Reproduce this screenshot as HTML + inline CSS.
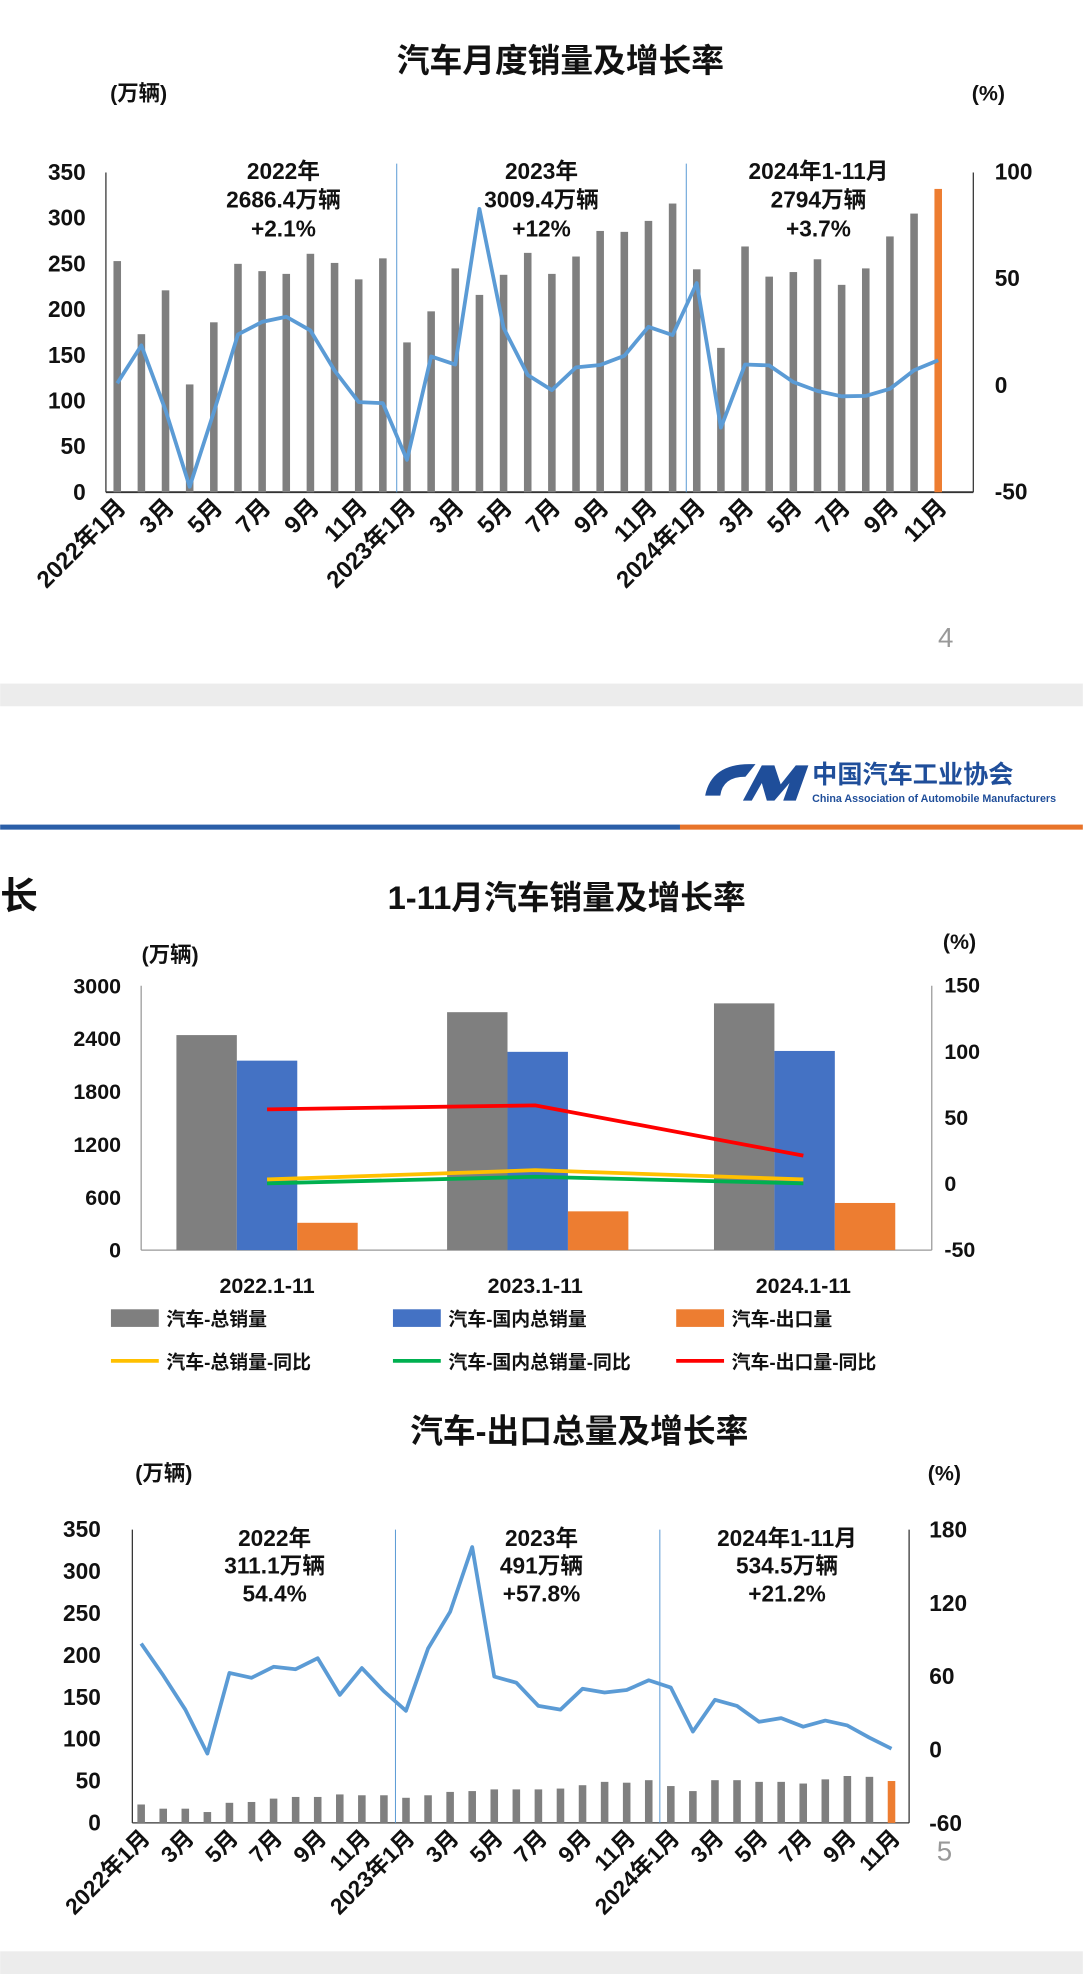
<!DOCTYPE html>
<html><head><meta charset="utf-8"><style>
html,body{margin:0;padding:0;background:#fff;}
svg{display:block;font-family:"Liberation Sans","Noto Sans CJK SC",sans-serif;}
</style></head><body>
<svg id="s" width="1083" height="1974" viewBox="0 0 860 1568" xmlns="http://www.w3.org/2000/svg">
<rect width="860" height="1568" fill="#fff"/>
<rect x="0" y="543" width="860" height="18" fill="#ececec"/>
<rect x="0" y="1550" width="860" height="18" fill="#ececec"/>
<g font-weight="bold" fill="#111" text-anchor="middle">
<text x="445" y="57" font-size="26">汽车月度销量及增长率</text>
<text x="110" y="80" font-size="17">(万辆)</text>
<text x="785" y="80" font-size="17">(%)</text>
<text x="225" y="142" font-size="18">2022年</text><text x="225" y="165" font-size="18">2686.4万辆</text><text x="225" y="188" font-size="18">+2.1%</text>
<text x="430" y="142" font-size="18">2023年</text><text x="430" y="165" font-size="18">3009.4万辆</text><text x="430" y="188" font-size="18">+12%</text>
<text x="650" y="142" font-size="18">2024年1-11月</text><text x="650" y="165" font-size="18">2794万辆</text><text x="650" y="188" font-size="18">+3.7%</text>
<text x="450" y="722" font-size="26">1-11月汽车销量及增长率</text>
<text x="15" y="722" font-size="30">长</text>
<text x="135" y="764" font-size="17">(万辆)</text>
<text x="762" y="754" font-size="17">(%)</text>
<text x="460" y="1146" font-size="26">汽车-出口总量及增长率</text>
<text x="130" y="1176" font-size="17">(万辆)</text>
<text x="750" y="1176" font-size="17">(%)</text>
<text x="218" y="1228" font-size="18">2022年</text><text x="218" y="1250" font-size="18">311.1万辆</text><text x="218" y="1272" font-size="18">54.4%</text>
<text x="430" y="1228" font-size="18">2023年</text><text x="430" y="1250" font-size="18">491万辆</text><text x="430" y="1272" font-size="18">+57.8%</text>
<text x="625" y="1228" font-size="18">2024年1-11月</text><text x="625" y="1250" font-size="18">534.5万辆</text><text x="625" y="1272" font-size="18">+21.2%</text>
</g>
<text x="745" y="514" font-size="22" fill="#999">4</text>
<text x="744" y="1478" font-size="22" fill="#999">5</text>
<!-- logo -->
<path d="M560 632 q5 -25 35 -25 l5 0 l-8 10 q-18 0 -20 15 z" fill="#1f4e9a"/>
<path d="M590 636 l15 -28 l10 0 l5 15 l12 -15 l10 0 l-10 28 l-10 0 l5 -14 l-12 14 l-6 0 l-4 -14 l-8 14 z" fill="#1f4e9a"/>
<text x="645" y="622" font-size="20" font-weight="bold" fill="#1f4e9a">中国汽车工业协会</text>
<text x="645" y="637" font-size="8.5" fill="#1f4e9a" font-weight="bold">China Association of Automobile Manufacturers</text>
<rect x="0" y="655" width="540" height="4" fill="#2b5fa8"/>
<rect x="540" y="655" width="320" height="4" fill="#e8742a"/>
<g id="g"></g>
</svg>
<script>
const g=document.getElementById('g');let h='';
const T=(x,y,t,o='')=>h+=`<text x="${x}" y="${y}" ${o}>${t}</text>`;
const L=['2022年1月','3月','5月','7月','9月','11月','2023年1月','3月','5月','7月','9月','11月','2024年1月','3月','5月','7月','9月','11月'];
const idx=j=>(j<6?j*2:j<12?12+(j-6)*2:24+(j-12)*2);
// chart 1
{const y0=391,k=254/350,r0=306,rk=84.7/50,x0=93,dx=19.18;
h+=`<line x1="84" y1="391" x2="773" y2="391" stroke="#333" stroke-width="1.5"/><line x1="84" y1="137" x2="84" y2="391" stroke="#333"/><line x1="773" y1="137" x2="773" y2="391" stroke="#333"/>`;
h+=`<line x1="315" y1="130" x2="315" y2="391" stroke="#5b9bd5" stroke-width="0.8"/><line x1="545" y1="130" x2="545" y2="391" stroke="#5b9bd5" stroke-width="0.8"/>`;
const v=[253,173,221,118,186,250,242,239,261,251,233,256,164,198,245,216,238,262,239,258,286,285,297,316,244,158,269,236,241,255,227,245,280,305,332];
const p=[0.9,18.7,-11.7,-47.6,-12.6,23.8,29.7,32.1,25.7,6.9,-7.9,-8.4,-35,13.5,9.7,82.7,26.9,4.8,-2.3,8.4,9.5,13.8,27.4,23.5,47.9,-19.9,9.7,9.3,1.5,-2.7,-5.2,-5,-1.7,7,11.7];
v.forEach((a,i)=>{const x=x0+i*dx;h+=`<rect x="${x-3}" y="${y0-a*k}" width="6" height="${a*k}" fill="${i==34?'#ed7d31':'#7f7f7f'}"/>`;});
h+=`<polyline fill="none" stroke="#5b9bd5" stroke-width="3" stroke-linejoin="round" points="${p.map((a,i)=>(x0+i*dx)+','+(r0-a*rk)).join(' ')}"/>`;
h+='<g font-weight="bold" font-size="18" fill="#111">';
[0,50,100,150,200,250,300,350].forEach(a=>T(68,y0-a*k+6,a,'text-anchor="end"'));
[100,50,0,-50].forEach(a=>T(790,r0-a*rk+6,a));
L.forEach((t,j)=>{const xi=x0+idx(j)*dx;T(0,0,t,`font-size="19" text-anchor="end" transform="translate(${xi+8},${404}) rotate(-45)"`);});
h+='</g>';}
// chart 2
{const y0=993,k=210/3000,r0=940,rk=157.5/150;
h+=`<line x1="112" y1="993" x2="740" y2="993" stroke="#999"/><line x1="112" y1="783" x2="112" y2="993" stroke="#999"/><line x1="740" y1="783" x2="740" y2="993" stroke="#999"/>`;
const G=[[140,2440,2150,310],[355,2700,2250,440],[567,2800,2260,535]];
G.forEach(([x,a,b,c])=>{h+=`<rect x="${x}" y="${y0-a*k}" width="48" height="${a*k}" fill="#7f7f7f"/><rect x="${x+48}" y="${y0-b*k}" width="48" height="${b*k}" fill="#4472c4"/><rect x="${x+96}" y="${y0-c*k}" width="48" height="${c*k}" fill="#ed7d31"/>`;});
const X=[212,425,638];
[[[56,59,21],'#ff0000'],[[3,10,3],'#ffc000'],[[0,5,0],'#00b050']].forEach(([d,c])=>h+=`<polyline fill="none" stroke="${c}" stroke-width="3" points="${d.map((a,i)=>X[i]+','+(r0-a*rk)).join(' ')}"/>`);
h+='<g font-weight="bold" font-size="17" fill="#111">';
[0,600,1200,1800,2400,3000].forEach(a=>T(96,y0-a*k+6,a,'text-anchor="end"'));
[150,100,50,0,-50].forEach(a=>T(750,r0-a*rk+6,a));
['2022.1-11','2023.1-11','2024.1-11'].forEach((t,i)=>T(X[i],1027,t,'text-anchor="middle"'));
h+='</g><g font-size="15" font-weight="bold" fill="#111">';
const leg=[[88,1053,'#7f7f7f','rect','汽车-总销量'],[312,1053,'#4472c4','rect','汽车-国内总销量'],[537,1053,'#ed7d31','rect','汽车-出口量'],[88,1087,'#ffc000','line','汽车-总销量-同比'],[312,1087,'#00b050','line','汽车-国内总销量-同比'],[537,1087,'#ff0000','line','汽车-出口量-同比']];
leg.forEach(([x,y,c,t,s])=>{h+=t=='rect'?`<rect x="${x}" y="${y-13}" width="38" height="14" fill="${c}"/>`:`<line x1="${x}" y1="${y-6}" x2="${x+38}" y2="${y-6}" stroke="${c}" stroke-width="3"/>`;T(x+44,y,s);});
h+='</g>';}
// chart 3
{const y0=1448,k=233/350,r0=1390,rk=58.25/60,x0=112,dx=17.53;
h+=`<line x1="105" y1="1448" x2="722" y2="1448" stroke="#333"/><line x1="105" y1="1215" x2="105" y2="1448" stroke="#333"/><line x1="722" y1="1215" x2="722" y2="1448" stroke="#333"/>`;
h+=`<line x1="314" y1="1215" x2="314" y2="1448" stroke="#5b9bd5" stroke-width="0.8"/><line x1="524" y1="1215" x2="524" y2="1448" stroke="#5b9bd5" stroke-width="0.8"/>`;
const v=[22,17,17,13,24,25,29,31,31,34,33,33,30,33,37,38,40,40,40,41,45,49,48,51,44,38,51,51,49,49,47,52,56,55,50];
const p=[87,61,33,-3,63,59,68,66,75,45,67,48,32,83,113,166,60,55,36,33,50,47,49,57,51,15,41,36,23,26,19,24,20,10,1];
v.forEach((a,i)=>{const x=x0+i*dx;h+=`<rect x="${x-3}" y="${y0-a*k}" width="6" height="${a*k}" fill="${i==34?'#ed7d31':'#7f7f7f'}"/>`;});
h+=`<polyline fill="none" stroke="#5b9bd5" stroke-width="3" stroke-linejoin="round" points="${p.map((a,i)=>(x0+i*dx)+','+(r0-a*rk)).join(' ')}"/>`;
h+='<g font-weight="bold" font-size="18" fill="#111">';
[0,50,100,150,200,250,300,350].forEach(a=>T(80,y0-a*k+6,a,'text-anchor="end"'));
[180,120,60,0,-60].forEach(a=>T(738,r0-a*rk+6,a));
L.forEach((t,j)=>{const xi=x0+idx(j)*dx;T(0,0,t,`font-size="18" text-anchor="end" transform="translate(${xi+8},${1461}) rotate(-45)"`);});
h+='</g>';}
g.innerHTML=h;
</script>
</body></html>
